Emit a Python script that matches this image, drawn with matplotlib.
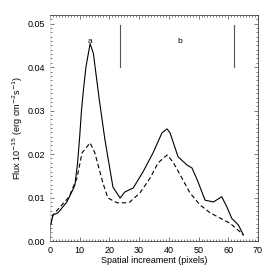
import numpy as np
import matplotlib
matplotlib.use("Agg")
import matplotlib.pyplot as plt
from matplotlib.ticker import MultipleLocator

plt.rcParams['font.family'] = ['Liberation Sans', 'DejaVu Sans']

# === Data ===
x_solid = [0, 0.05, 1.0, 2.7, 5.7, 7.7, 8.4, 9.3, 10.0, 10.6, 11.3, 12.1,
           13.5, 14.6, 16.6, 18.5, 21.2, 23.6, 25.2, 28.0, 31.3, 34.7, 37.7,
           39.4, 40.4, 43.1, 46.1, 47.8, 49.6, 52.2, 55.0, 57.8, 59.5, 61.2,
           63.4, 65.1]
y_solid = [0.0005, 0.0032, 0.0060, 0.0065, 0.0090, 0.0118, 0.0129, 0.0180,
           0.0240, 0.0300, 0.0350, 0.0400, 0.0454, 0.0432, 0.0325, 0.0233,
           0.0124, 0.0099, 0.0113, 0.0122, 0.0159, 0.0203, 0.0249, 0.0258,
           0.0249, 0.0194, 0.0175, 0.0168, 0.0140, 0.0094, 0.0090, 0.0102,
           0.0079, 0.0052, 0.0037, 0.0014]

x_dash = [0, 0.05, 1.0, 6.1, 6.7, 9.1, 10.8, 13.5, 15.1, 17.8, 19.5, 22.6,
          25.2, 26.9, 30.3, 33.7, 36.4, 39.4, 41.4, 44.4, 47.1, 50.5, 53.9,
          57.2, 60.6, 64.0, 65.0]
y_dash = [0.0005, 0.0032, 0.0060, 0.0099, 0.0106, 0.0145, 0.0203, 0.0226,
          0.0203, 0.0134, 0.0099, 0.0088, 0.0088, 0.0090, 0.0111, 0.0145,
          0.0180, 0.0198, 0.0182, 0.0145, 0.0111, 0.0083, 0.0065, 0.0053,
          0.0041, 0.0021, 0.0014]

# region markers and labels
region_x = [23.6, 62.0]
region_y = (0.0401, 0.0498)
region_labels = ['a', 'b']
label_x = [13.6, 43.8]
label_y = 0.0458

# === Plotting ===
fig = plt.figure(figsize=(2.73, 2.73), dpi=100)
ax = fig.add_axes([0.183, 0.117, 0.762, 0.828])

ax.plot(x_solid, y_solid, color='black', lw=0.8)
ax.plot(x_dash, y_dash, color='black', lw=0.8, dashes=(4, 2.5))

for xv in region_x:
    ax.plot([xv, xv], region_y, color='#555555', lw=0.8)
for lab, xv in zip(region_labels, label_x):
    ax.text(xv, label_y, lab, ha='center', va='center', fontsize=6)

ax.set_xlim(0, 70)
ax.set_ylim(0, 0.052)
ax.xaxis.set_major_locator(MultipleLocator(10))
ax.xaxis.set_minor_locator(MultipleLocator(1))
ax.yaxis.set_major_locator(MultipleLocator(0.01))
ax.yaxis.set_minor_locator(MultipleLocator(0.001))
ax.yaxis.set_major_formatter(plt.FormatStrFormatter('%.2f'))

ax.tick_params(which='both', direction='in', top=True, right=True,
               labelsize=6.5, width=0.5, color='#444444')
ax.tick_params(which='major', length=3)
ax.tick_params(which='minor', length=1.5)

for s in ['top', 'right', 'bottom']:
    ax.spines[s].set_linewidth(0.6)
    ax.spines[s].set_color('#444444')
ax.spines['left'].set_linewidth(0.4)
ax.spines['left'].set_color('#cccccc')

ax.set_xlabel('Spatial increament (pixels)', fontsize=6.5, labelpad=1)
ax.set_ylabel('Flux 10$^{-15}$ (erg cm$^{-2}$s$^{-1}$)', fontsize=6.5, labelpad=2)

fig.savefig('out.png', dpi=100)
